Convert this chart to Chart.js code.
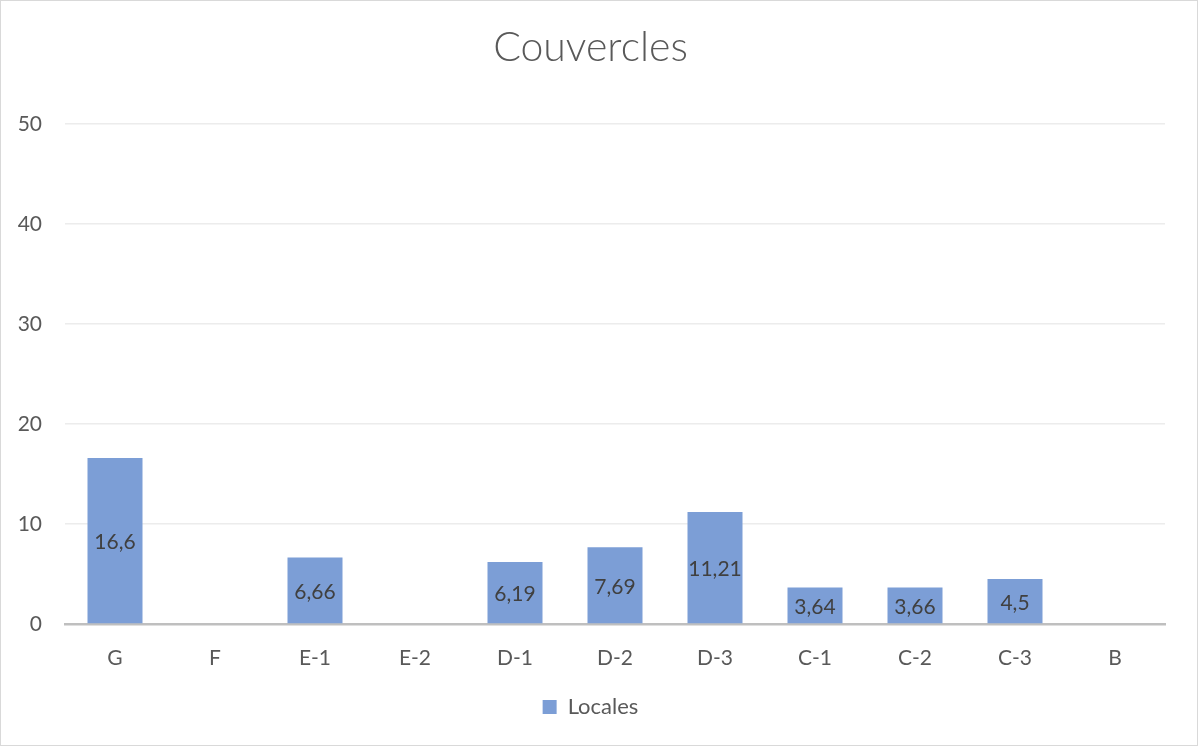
<!DOCTYPE html>
<html>
<head>
<meta charset="utf-8">
<script src="https://cdn.jsdelivr.net/npm/chart.js@4"></script>
<style>
  html,body{margin:0;padding:0;background:#fff;}
  #wrap{position:relative;width:1198px;height:746px;box-sizing:border-box;border:1px solid #d9d9d9;}
  canvas{display:block;}
</style>
</head>
<body>
<div id="wrap"><canvas id="c" width="1196" height="744"></canvas></div>
<script>
const categories = ["G","F","E-1","E-2","D-1","D-2","D-3","C-1","C-2","C-3","B"];
const locales = [16.6, null, 6.66, null, 6.19, 7.69, 11.21, 3.64, 3.66, 4.5, null];
const labelText = ["16,6", "", "6,66", "", "6,19", "7,69", "11,21", "3,64", "3,66", "4,5", ""];
const yTicks = [0, 10, 20, 30, 40, 50];

const FONT = "Lato, 'Open Sans', sans-serif";

const centerLabels = {
  id: 'centerLabels',
  afterDatasetsDraw(chart) {
    const ctx = chart.ctx;
    const meta = chart.getDatasetMeta(0);
    ctx.save();
    ctx.font = "21px " + FONT;
    ctx.fillStyle = "#404040";
    ctx.textAlign = "center";
    ctx.textBaseline = "middle";
    meta.data.forEach((bar, i) => {
      if (locales[i] == null) return;
      const p = bar.getProps(['x','y','base'], true);
      ctx.fillText(labelText[i], p.x, (p.y + p.base) / 2 + 2);
    });
    ctx.restore();
  }
};

new Chart(document.getElementById('c'), {
  type: 'bar',
  data: {
    labels: categories,
    datasets: [{
      label: 'Locales',
      data: locales,
      backgroundColor: 'rgb(124,158,214)',
      borderWidth: 0,
      barPercentage: 0.55,
      categoryPercentage: 1.0
    }]
  },
  options: {
    responsive: false,
    animation: false,
    layout: { padding: { left: 15, right: 32, top: 0, bottom: 17 } },
    plugins: {
      title: {
        display: true,
        text: 'Couvercles',
        color: '#595959',
        font: { family: FONT, size: 41, weight: 300 },
        padding: { top: 22, bottom: 52 }
      },
      legend: {
        position: 'bottom',
        labels: {
          color: '#595959',
          font: { family: FONT, size: 22 },
          boxWidth: 14, boxHeight: 14,
          padding: 10
        }
      },
      tooltip: { enabled: false }
    },
    scales: {
      x: {
        grid: { display: false, drawTicks: false },
        border: { color: '#bfbfbf', width: 2.5 },
        ticks: { color: '#595959', font: { family: FONT, size: 21 }, padding: 22 },
        afterFit(s) { s.height = 62; }
      },
      y: {
        min: 0, max: 50,
        afterBuildTicks(s) { s.ticks = yTicks.map(v => ({ value: v })); },
        grid: { color: '#ececec', lineWidth: 1.5, drawTicks: false },
        border: { display: false },
        ticks: { color: '#595959', font: { family: FONT, size: 21 }, padding: 23 },
        afterFit(s) { s.width = 49; }
      }
    }
  },
  plugins: [centerLabels]
});
</script>
</body>
</html>
